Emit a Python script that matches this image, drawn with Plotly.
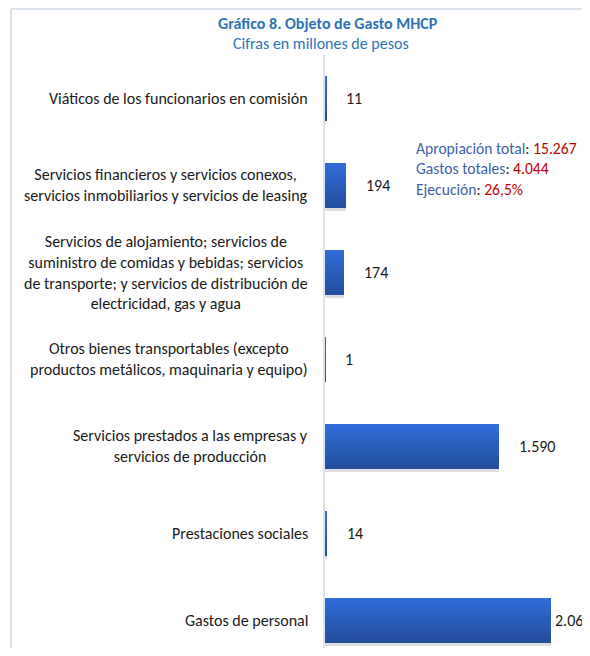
import plotly.graph_objects as go

# datos del gráfico (millones de pesos)
categorias = [
    "Viáticos de los funcionarios en comisión",
    "Servicios financieros y servicios conexos,<br>servicios inmobiliarios y servicios de leasing",
    "Servicios de alojamiento; servicios de<br>suministro de comidas y bebidas; servicios<br>de transporte; y servicios de distribución de<br>electricidad, gas y agua",
    "Otros bienes transportables (excepto<br>productos metálicos, maquinaria y equipo)",
    "Servicios prestados a las empresas y<br>servicios de producción",
    "Prestaciones sociales",
    "Gastos de personal",
]
valores = [11, 194, 174, 1, 1590, 14, 2061]
etiquetas = [f"{v:,}".replace(",", ".") for v in valores]
desplaz_etiqueta = [18, 18, 18, 18, 18, 18, 2]

resumen_nombres = ["Apropiación total", "Gastos totales", "Ejecución"]
resumen_valores = ["15.267", "4.044", "26,5%"]

FONT = "Carlito, Calibri, Liberation Sans, Arial, sans-serif"
AZUL_TIT = "#2e74b5"
FS = 16

# la página deja 8px de margen alrededor: figura de 574x640 para no desbordar
OFF = 8
W, H = 590 - 2 * OFF, 656 - 2 * OFF
ML, MT = 325 - OFF, 54.5 - OFF
plot_w = W - ML
plot_h = H - MT
px_por_unidad = 0.1097
cat_px = 87.0


def px_x(x):
    # x en píxeles de la ventana -> coordenada paper
    return (x - OFF - ML) / plot_w


def px_y(y):
    return (H - (y - OFF)) / plot_h


fig = go.Figure()

bw = 0.517
# sombra
fig.add_trace(go.Bar(
    x=valores, y=categorias, orientation="h",
    width=bw, offset=-bw / 2 + 0.04,
    marker=dict(color="rgba(0,0,0,0.13)", line=dict(width=0)),
    hoverinfo="skip", showlegend=False,
))

# degradado en franjas
n = 12
c_top = (0x30, 0x6c, 0xd8)
c_bot = (0x23, 0x4e, 0x9e)
for i in range(n):
    t = i / (n - 1)
    col = tuple(round(a + (b - a) * t) for a, b in zip(c_top, c_bot))
    fig.add_trace(go.Bar(
        x=valores, y=categorias, orientation="h",
        width=bw / n * 1.05, offset=-bw / 2 + i * bw / n,
        marker=dict(color="rgb(%d,%d,%d)" % col, line=dict(width=0)),
        hoverinfo="skip", showlegend=False,
    ))

annotations = []
for cat in categorias:
    annotations.append(dict(
        x=0, xref="paper", y=cat, yref="y", xanchor="right", yanchor="middle",
        xshift=-15, align="center", showarrow=False, text=cat,
        font=dict(family=FONT, size=FS, color="#1a1a1a"),
    ))
for v, cat, lab, sh in zip(valores, categorias, etiquetas, desplaz_etiqueta):
    annotations.append(dict(
        x=v, xref="x", y=cat, yref="y", xanchor="left", yanchor="middle",
        xshift=sh, showarrow=False, text=lab,
        font=dict(family=FONT, size=FS, color="#1a1a1a"),
    ))

annotations.append(dict(
    x=px_x(328), xref="paper", y=px_y(23), yref="paper", xanchor="center", yanchor="middle",
    showarrow=False, text="<b>Gráfico 8. Objeto de Gasto MHCP</b>",
    font=dict(family=FONT, size=FS, color=AZUL_TIT),
))
annotations.append(dict(
    x=px_x(321), xref="paper", y=px_y(43), yref="paper", xanchor="center", yanchor="middle",
    showarrow=False, text="Cifras en millones de pesos",
    font=dict(family=FONT, size=FS, color=AZUL_TIT),
))

lineas = [
    f"<span style='color:#3f5fa8'>{nom}</span><span style='color:#333333'>:</span> "
    f"<span style='color:#c00000'>{val}</span>"
    for nom, val in zip(resumen_nombres, resumen_valores)
]
annotations.append(dict(
    x=px_x(414), xref="paper", y=px_y(169), yref="paper", xanchor="left", yanchor="middle",
    showarrow=False, align="left", text="<br>".join(lineas),
    font=dict(family=FONT, size=15.6),
))

marco = "#dde3ea"
shapes = [
    dict(type="line", xref="paper", yref="paper", x0=px_x(11), x1=px_x(11), y0=-0.05, y1=px_y(8.5),
         line=dict(color=marco, width=2)),
    dict(type="line", xref="paper", yref="paper", x0=px_x(11), x1=px_x(600), y0=px_y(8.5), y1=px_y(8.5),
         line=dict(color=marco, width=2)),
]

fig.update_layout(
    width=W, height=H,
    margin=dict(l=ML, r=0, t=MT, b=0),
    paper_bgcolor="white", plot_bgcolor="white",
    barmode="overlay", bargap=0,
    annotations=annotations, shapes=shapes,
    xaxis=dict(range=[0, plot_w / px_por_unidad], visible=False, fixedrange=True),
    yaxis=dict(
        type="category", categoryorder="array", categoryarray=categorias,
        range=[-0.5 + plot_h / cat_px, -0.5],
        showticklabels=False, ticks="", showgrid=False, zeroline=False,
        showline=True, linecolor="#dde3ea", linewidth=2,
    ),
    font=dict(family=FONT),
)

fig.write_html("out.html")
